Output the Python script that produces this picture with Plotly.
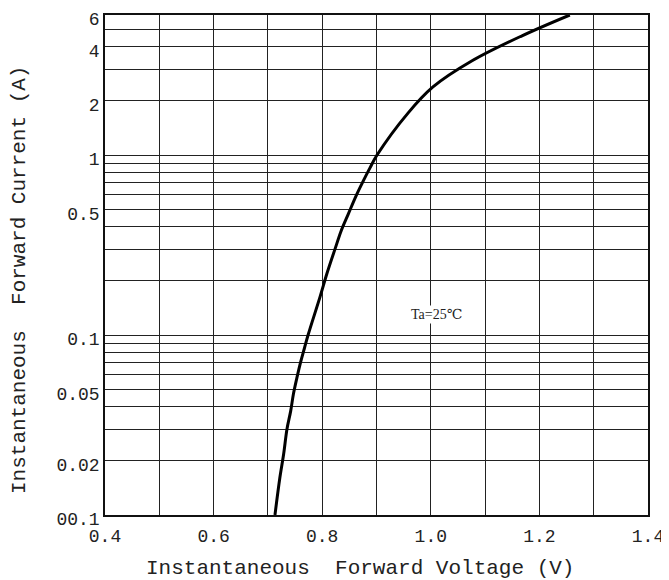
import math
import plotly.graph_objects as go

# Curve data (forward voltage in V, current in A)
voltage = [0.713, 0.722, 0.729, 0.735, 0.742, 0.747, 0.754, 0.760, 0.767, 0.774,
           0.796, 0.809, 0.824, 0.835, 0.848, 0.862, 0.875, 0.888, 0.901,
           0.958, 1.004, 1.076, 1.168, 1.256]
current = [0.010, 0.0161, 0.0218, 0.0299, 0.0379, 0.0470, 0.0589, 0.0703, 0.0839, 0.100,
           0.163, 0.221, 0.303, 0.380, 0.470, 0.590, 0.712, 0.849, 1.00,
           1.71, 2.39, 3.34, 4.60, 6.00]

# Axis ticks / grid
x_grid = [0.4, 0.5, 0.6, 0.7, 0.8, 0.9, 1.0, 1.1, 1.2, 1.3, 1.4]
x_labels = ["0.4", "", "0.6", "", "0.8", "", "1.0", "", "1.2", "", "1.4"]
y_grid = [0.01, 0.02, 0.03, 0.04, 0.05, 0.06, 0.07, 0.08, 0.09, 0.1,
          0.2, 0.3, 0.4, 0.5, 0.6, 0.7, 0.8, 0.9, 1, 2, 3, 4, 5, 6]
y_labels = ["00.1", "0.02", "", "", "0.05", "", "", "", "", "0.1",
            "", "", "", "0.5", "", "", "", "", "1", "2", "", "4", "", "6"]

x_title = "Instantaneous  Forward Voltage (V)"
y_title = "Instantaneous  Forward Current (A)"
note_text = "Ta=25℃"
note_x, note_y = 1.01, 0.13

MONO = "Liberation Mono, DejaVu Sans Mono, monospace"

fig = go.Figure()
fig.add_trace(go.Scatter(
    x=voltage, y=current, mode="lines",
    line=dict(color="black", width=3, shape="spline", smoothing=1.0),
    showlegend=False, hoverinfo="skip",
))

fig.update_xaxes(
    range=[0.4, 1.4], tickmode="array", tickvals=x_grid, ticktext=x_labels,
    showgrid=True, gridcolor="#222", gridwidth=1.3, zeroline=False,
    showline=True, linecolor="#111", linewidth=1.5, mirror=True,
    ticks="", tickfont=dict(family=MONO, size=18, color="#222"),
    automargin=False, ticklabeloverflow="allow", ticklabelstandoff=4,
)
fig.update_yaxes(
    type="log", range=[math.log10(0.01), math.log10(6)],
    tickmode="array", tickvals=y_grid, ticktext=y_labels,
    showgrid=True, gridcolor="#222", gridwidth=1.3, zeroline=False,
    showline=True, linecolor="#111", linewidth=1.5, mirror=True,
    ticks="", tickfont=dict(family=MONO, size=18, color="#222"),
    automargin=False, ticklabeloverflow="allow", ticklabelshift=4,
)

fig.add_annotation(
    x=note_x, y=math.log10(note_y), text=note_text, showarrow=False,
    font=dict(family="Liberation Serif, DejaVu Serif, serif", size=14, color="#222"),
    bgcolor="white", borderpad=1,
)
fig.add_annotation(
    x=0.47, xref="paper", y=0, yref="paper", yshift=-53, text=x_title,
    showarrow=False, xanchor="center", yanchor="middle",
    font=dict(family=MONO, size=21, color="#222"),
)
fig.add_annotation(
    x=0, xref="paper", xshift=-86, y=0.47, yref="paper", text=y_title,
    showarrow=False, textangle=-90, xanchor="center", yanchor="middle",
    font=dict(family=MONO, size=21, color="#222"),
)

fig.update_layout(
    width=661, height=572,
    margin=dict(l=97, r=21, t=7, b=65, autoexpand=False),
    paper_bgcolor="white", plot_bgcolor="white",
)

fig.write_html("out.html")
